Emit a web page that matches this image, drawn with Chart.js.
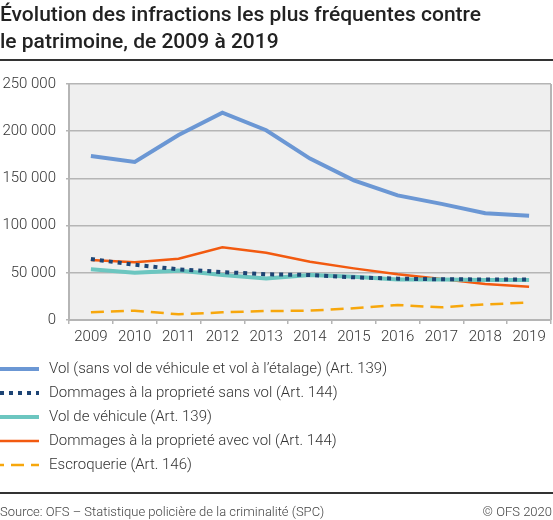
<!DOCTYPE html>
<html>
<head>
<meta charset="utf-8">
<script src="https://cdn.jsdelivr.net/npm/chart.js@4"></script>
<style>
  body{margin:0;background:#fff;font-family:Roboto,sans-serif;}
  #page{position:relative;width:553px;height:520px;overflow:hidden;}
  #title{position:absolute;left:0;top:1px;font-size:21px;font-weight:500;line-height:27px;color:#222;}
  .rule{position:absolute;left:0;width:553px;height:1.5px;background:#333;}
  #chartBox{position:absolute;left:0;top:0;width:553px;height:520px;}
  #source{position:absolute;left:0;top:504px;font-size:13px;font-weight:300;color:#444;}
  #copy{position:absolute;right:1px;top:504px;font-size:13px;font-weight:300;color:#444;}
</style>
</head>
<body>
<div id="page">
  <div id="chartBox"><canvas id="myChart"></canvas></div>
  <div id="title">Évolution des infractions les plus fréquentes contre<br>le patrimoine, de 2009 à 2019</div>
  <div class="rule" style="top:59px"></div>
  <div class="rule" style="top:492px"></div>
  <div id="source">Source: OFS – Statistique policière de la criminalité (SPC)</div>
  <div id="copy">© OFS 2020</div>
</div>
<script>
const years = ['2009','2010','2011','2012','2013','2014','2015','2016','2017','2018','2019'];
const yTicks = [0, 50000, 100000, 150000, 200000, 250000];

const vol = [173700, 167400, 196000, 219600, 201000, 171000, 148000, 132000, 123000, 113000, 110500];
const dommagesSansVol = [64600, 58500, 53700, 50800, 48400, 47700, 45200, 43800, 43100, 43000, 43000];
const volVehicule = [53700, 50100, 52300, 47700, 44100, 47700, 45900, 43000, 43000, 42400, 42400];
const dommagesAvecVol = [63600, 61100, 65000, 77000, 71300, 61800, 54700, 48400, 43400, 38100, 35300];
const escroquerie = [8100, 9900, 6000, 8100, 9500, 9900, 12400, 15900, 13400, 16600, 18400];

function fmt(v){
    return String(v).replace(/\B(?=(\d{3})+(?!\d))/g, ' ');
}

// plot background + right border
const plotBg = {
    id:'plotBg',
    beforeDraw(chart){
        const {ctx, chartArea:a} = chart;
        ctx.save();
        ctx.fillStyle = '#efefef';
        ctx.fillRect(a.left, a.top, a.right - a.left, a.bottom - a.top);
        ctx.strokeStyle = '#b5b5b5';
        ctx.lineWidth = 2;
        ctx.beginPath();
        ctx.moveTo(a.right, a.top);
        ctx.lineTo(a.right, a.bottom);
        ctx.stroke();
        ctx.restore();
    }
};

// vertical legend under the chart
const sideLegend = {
    id:'sideLegend',
    afterDraw(chart){
        const {ctx, chartArea:a} = chart;
        ctx.save();
        chart.data.datasets.forEach((ds, i) => {
            const y = a.bottom + 49 + i * 24;
            ctx.strokeStyle = ds.borderColor;
            ctx.lineWidth = ds.borderWidth;
            ctx.lineCap = 'butt';
            ctx.setLineDash(ds.borderDash || []);
            ctx.lineDashOffset = ds.legendDashOffset || 0;
            ctx.beginPath();
            ctx.moveTo(0, y);
            ctx.lineTo(39, y);
            ctx.stroke();
            ctx.setLineDash([]);
            ctx.fillStyle = '#333';
            ctx.font = '300 15px Roboto';
            ctx.textBaseline = 'middle';
            ctx.fillText(ds.label, 49, y);
        });
        ctx.restore();
    }
};

const mychart = document.getElementById('myChart').getContext('2d');
new Chart(mychart, {
    type:'line',
    data:{
        labels: years,
        datasets:[
            {label:'Vol (sans vol de véhicule et vol à l’étalage) (Art. 139)', data: vol,
             borderColor:'#6b97d4', borderWidth:4},
            {label:'Dommages à la proprieté sans vol (Art. 144)', data: dommagesSansVol,
             borderColor:'#1d4474', borderWidth:4, borderDash:[4,5]},
            {label:'Vol de véhicule (Art. 139)', data: volVehicule,
             borderColor:'#6cc6c0', borderWidth:4},
            {label:'Dommages à la proprieté avec vol (Art. 144)', data: dommagesAvecVol,
             borderColor:'#f25a10', borderWidth:2.5},
            {label:'Escroquerie (Art. 146)', data: escroquerie,
             borderColor:'#f7a70c', borderWidth:2.5, borderDash:[13,7], legendDashOffset:9}
        ]
    },
    options:{
        responsive:true,
        maintainAspectRatio:false,
        animation:false,
        elements:{
            line:{tension:0, borderCapStyle:'butt', fill:false},
            point:{radius:0, hoverRadius:0}
        },
        layout:{padding:{top:84, left:0, right:2, bottom:170}},
        plugins:{
            legend:{display:false},
            tooltip:{enabled:false}
        },
        scales:{
            x:{
                offset:true,
                afterFit(scale){ scale.height = 30; },
                grid:{display:true, offset:true, drawOnChartArea:false, drawTicks:true,
                      tickLength:4, color:'#b5b5b5', lineWidth:1.5},
                border:{display:true, color:'#b5b5b5', width:2},
                ticks:{color:'#333', font:{family:'Roboto', size:15, weight:'300'}, padding:4, maxRotation:0}
            },
            y:{
                min:0, max:250000,
                afterFit(scale){ scale.width = 69; },
                afterBuildTicks(scale){ scale.ticks = yTicks.map(v => ({value:v})); },
                grid:{color:'#b5b5b5', lineWidth:1.5, tickLength:3},
                border:{display:true, color:'#b5b5b5', width:2},
                ticks:{color:'#333', font:{family:'Roboto', size:15, weight:'300'}, padding:10,
                       callback:(v) => fmt(v)}
            }
        }
    },
    plugins:[plotBg, sideLegend]
});
</script>
</body>
</html>
